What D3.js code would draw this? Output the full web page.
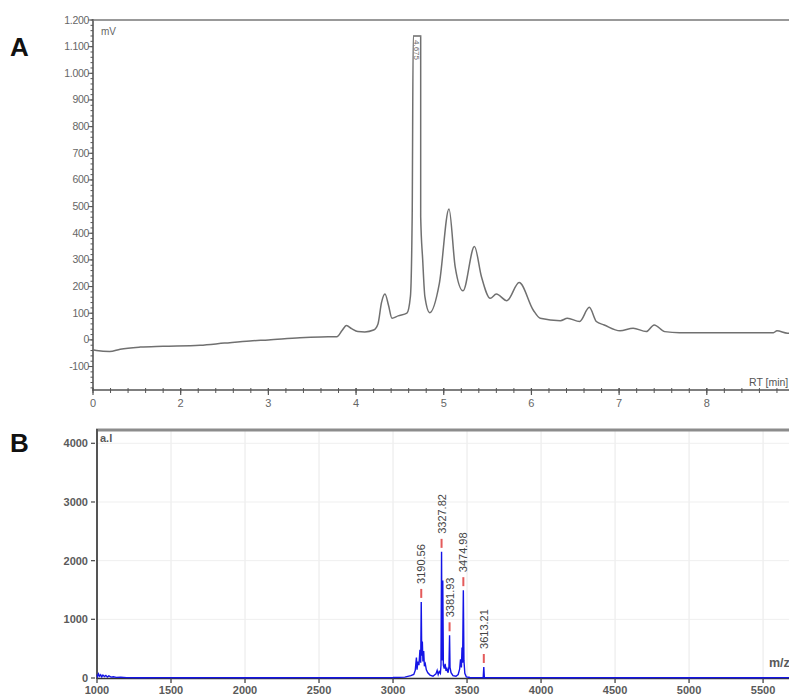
<!DOCTYPE html>
<html><head><meta charset="utf-8">
<script src="https://cdn.jsdelivr.net/npm/d3@7"></script>
<style>
html,body{margin:0;padding:0;background:#fff;overflow:hidden;}
svg{display:block;font-family:Arial,"Liberation Sans",sans-serif;}
</style></head>
<body>
<svg id="chart" width="789" height="698"></svg>
<script>
// ---------- Panel A: chromatogram ----------
const rtTimes = [1.00,1.04,1.19,1.31,1.54,1.80,2.22,2.50,2.79,3.00,3.36,3.60,3.78,3.84,3.89,3.95,4.02,4.10,4.20,4.25,4.29,4.33,4.37,4.41,4.48,4.58,4.62,4.64,4.652,4.737,4.737,4.76,4.785,4.84,4.95,5.06,5.13,5.22,5.35,5.43,5.53,5.60,5.72,5.86,6.02,6.10,6.33,6.41,6.55,6.66,6.74,6.83,7.01,7.16,7.31,7.40,7.52,7.69,8.00,8.50,8.76,8.80,8.92,9.04];
const rtSignal = [-37,-40,-44,-35,-27,-24,-20,-12,-4,0,8,11,12,35,54,42,31,30,37,60,140,172,130,81,90,100,163,462,1140,1140,462,300,162,102,212,491,275,184,350,237,156,172,147,215,112,81,72,81,69,122,69,56,34,44,31,56,31,27,27,27,27,34,25,25];
const rtTickValues = [1,2,3,4,5,6,7,8];
const rtTickLabels = ["0","2","3","4","5","6","7","8"];
const mvTickValues = [-100,0,100,200,300,400,500,600,700,800,900,1000,1100,1200];
const mvTickLabels = ["-100","0","100","200","300","400","500","600","700","800","900","1.000","1.100","1.200"];
const peakLabelA = "4.675";

// ---------- Panel B: mass spectrum ----------
const mzValues = [1000,1005,1010,1018,1025,1032,1040,1050,1060,1070,1080,1095,1110,1130,1160,1200,1300,1450,1600,1800,2000,2200,2400,2600,2800,3000,3080,3120,3140,3150,3158,3162,3168,3175,3182,3187,3190.56,3194,3198,3202,3207,3212,3218,3225,3235,3250,3270,3290,3298,3305,3312,3320,3324,3327.82,3331,3336,3340,3346,3352,3358,3364,3372,3378,3381.93,3385,3392,3405,3425,3440,3450,3456,3462,3466,3470,3474.98,3479,3485,3495,3520,3600,3609,3613.21,3617,3650,3800,4000,4200,4400,4600,4800,5000,5200,5400,5600,5800];
const mzIntensity = [60,25,70,30,55,20,50,25,45,15,35,15,20,10,12,6,5,6,4,6,5,4,6,5,6,8,15,40,60,130,350,140,280,220,480,260,1297,380,620,280,460,200,240,140,90,50,30,70,130,60,110,80,220,2150,300,1660,220,160,240,120,160,90,200,728,180,90,40,30,60,150,320,180,520,260,1497,300,80,20,8,6,5,188,5,6,5,6,5,6,5,6,5,6,5,6,5];
const mzTickValues = [1000,1500,2000,2500,3000,3500,4000,4500,5000,5500];
const intTickValues = [0,1000,2000,3000,4000];
const labeledPeaksMz = [3190.56,3327.82,3381.93,3474.98,3613.21];
const labeledPeaksInt = [1297,2150,728,1497,188];
const labeledPeaksText = ["3190.56","3327.82","3381.93","3474.98","3613.21"];

const svg = d3.select("#chart");

// ===== Panel A =====
const xA = d3.scaleLinear().domain([1, 9.04]).range([93, 798]);
const yA = d3.scaleLinear().domain([-188, 1200]).range([390, 20]);
const gA = svg.append("g");
const axisCol = "#555";

const minorMv = d3.range(-180, 1201, 20);
gA.selectAll(".mvminor").data(minorMv).join("line")
  .attr("x1", 90.5).attr("x2", 93).attr("y1", d=>yA(d)).attr("y2", d=>yA(d))
  .attr("stroke", axisCol).attr("stroke-width", 1);
gA.selectAll(".mvmajor").data(mvTickValues).join("line")
  .attr("x1", 88).attr("x2", 93).attr("y1", d=>yA(d)).attr("y2", d=>yA(d))
  .attr("stroke", axisCol).attr("stroke-width", 1);
gA.selectAll(".mvlab").data(mvTickValues).join("text")
  .attr("x", 89).attr("y", d=>yA(d)+3.5).attr("text-anchor","end")
  .attr("font-size", 10.5).attr("fill", "#666").attr("letter-spacing", "-0.3")
  .text((d,i)=>mvTickLabels[i]);
gA.append("line").attr("x1",93).attr("x2",93).attr("y1",19).attr("y2",391)
  .attr("stroke",axisCol).attr("stroke-width",1.6);
gA.append("line").attr("x1",93).attr("x2",789).attr("y1",20).attr("y2",20)
  .attr("stroke","#777").attr("stroke-width",1.6);
gA.append("line").attr("x1",93).attr("x2",789).attr("y1",390).attr("y2",390)
  .attr("stroke",axisCol).attr("stroke-width",1.6);
const minorRt = d3.range(1, 9.05, 0.2);
gA.selectAll(".rtminor").data(minorRt).join("line")
  .attr("x1", d=>xA(d)).attr("x2", d=>xA(d)).attr("y1", 388).attr("y2", 393)
  .attr("stroke", axisCol).attr("stroke-width", 1);
gA.selectAll(".rtmajor").data(rtTickValues).join("line")
  .attr("x1", d=>xA(d)).attr("x2", d=>xA(d)).attr("y1", 388).attr("y2", 395)
  .attr("stroke", axisCol).attr("stroke-width", 1.2);
gA.selectAll(".rtlab").data(rtTickValues).join("text")
  .attr("x", d=>xA(d)).attr("y", 407).attr("text-anchor","middle")
  .attr("font-size", 11).attr("fill", "#666")
  .text((d,i)=>rtTickLabels[i]);
gA.append("text").attr("x",101).attr("y",35).attr("font-size",10).attr("fill","#666").text("mV");
gA.append("text").attr("x",749).attr("y",386).attr("font-size",10.5).attr("fill","#555").text("RT [min]");

const chromData = rtTimes.map((t,i)=>[t, rtSignal[i]]);
gA.append("path").datum(chromData)
  .attr("d", d3.line().x(d=>xA(d[0])).y(d=>yA(d[1])).curve(d3.curveMonotoneX))
  .attr("fill","none").attr("stroke","#707070").attr("stroke-width",1.5);
gA.append("line").attr("x1",xA(4.652)).attr("x2",xA(4.737)).attr("y1",yA(1140)).attr("y2",yA(1140))
  .attr("stroke","#8a8a8a").attr("stroke-width",1);
gA.append("text")
  .attr("transform",`translate(${xA(4.695)-3},${yA(1140)+4}) rotate(90)`)
  .attr("font-size",8).attr("fill","#666").text(peakLabelA);

// ===== Panel B =====
const xB = d3.scaleLinear().domain([1000, 5790]).range([97, 806]);
const yB = d3.scaleLinear().domain([0, 4227]).range([678, 430]);
const gB = svg.append("g");
gB.selectAll(".vgrid").data(mzTickValues.slice(1)).join("line")
  .attr("x1", d=>xB(d)).attr("x2", d=>xB(d)).attr("y1", 431).attr("y2", 678)
  .attr("stroke","#e8e8e8").attr("stroke-width",1);
gB.selectAll(".hgrid").data(intTickValues.slice(1)).join("line")
  .attr("x1", 97).attr("x2", 789).attr("y1", d=>yB(d)).attr("y2", d=>yB(d))
  .attr("stroke","#efefef").attr("stroke-width",1);
gB.append("line").attr("x1",96).attr("x2",789).attr("y1",430).attr("y2",430)
  .attr("stroke","#8c8c8c").attr("stroke-width",3);
gB.append("line").attr("x1",97).attr("x2",97).attr("y1",429).attr("y2",679)
  .attr("stroke","#555").attr("stroke-width",2);
gB.selectAll(".ytick").data(intTickValues).join("line")
  .attr("x1",91).attr("x2",95).attr("y1",d=>yB(d)).attr("y2",d=>yB(d))
  .attr("stroke","#555").attr("stroke-width",1.3);
gB.selectAll(".ylab").data(intTickValues).join("text")
  .attr("x",88).attr("y",d=>yB(d)+4).attr("text-anchor","end")
  .attr("font-size",11).attr("font-weight","bold").attr("fill","#5a5a5a")
  .text(d=>d);
gB.append("line").attr("x1",97).attr("x2",789).attr("y1",678.5).attr("y2",678.5)
  .attr("stroke","#333").attr("stroke-width",1.5);
gB.selectAll(".xtick").data(mzTickValues).join("line")
  .attr("x1",d=>xB(d)).attr("x2",d=>xB(d)).attr("y1",678).attr("y2",683)
  .attr("stroke","#444").attr("stroke-width",1.3);
gB.selectAll(".xlab").data(mzTickValues).join("text")
  .attr("x",d=>xB(d)).attr("y",694).attr("text-anchor","middle")
  .attr("font-size",11).attr("font-weight","bold").attr("fill","#5a5a5a")
  .text(d=>d);
gB.append("text").attr("x",100).attr("y",442).attr("font-size",11).attr("font-weight","bold").attr("fill","#5a5a5a").text("a.l");
gB.append("text").attr("x",769).attr("y",667).attr("font-size",12.5).attr("font-weight","bold").attr("fill","#5a5a5a").text("m/z");

const specData = mzValues.map((m,i)=>[m, mzIntensity[i]]);
gB.append("path").datum(specData)
  .attr("d", d3.line().x(d=>xB(d[0])).y(d=>yB(d[1])))
  .attr("fill","none").attr("stroke","#1414e6").attr("stroke-width",1.4);

labeledPeaksMz.forEach((m,i)=>{
  const x = xB(m);
  const yb = yB(labeledPeaksInt[i]) - 4;
  gB.append("line").attr("x1",x).attr("x2",x).attr("y1",yb-9).attr("y2",yb)
    .attr("stroke","#e45a5a").attr("stroke-width",2);
  gB.append("text")
    .attr("transform",`translate(${x+4},${yb-14}) rotate(-90)`)
    .attr("font-size",11).attr("fill","#444").text(labeledPeaksText[i]);
});

svg.append("text").attr("x",10).attr("y",56).attr("font-size",26).attr("font-weight","bold").attr("fill","#111").text("A");
svg.append("text").attr("x",10).attr("y",452).attr("font-size",26).attr("font-weight","bold").attr("fill","#111").text("B");
</script>
</body></html>
